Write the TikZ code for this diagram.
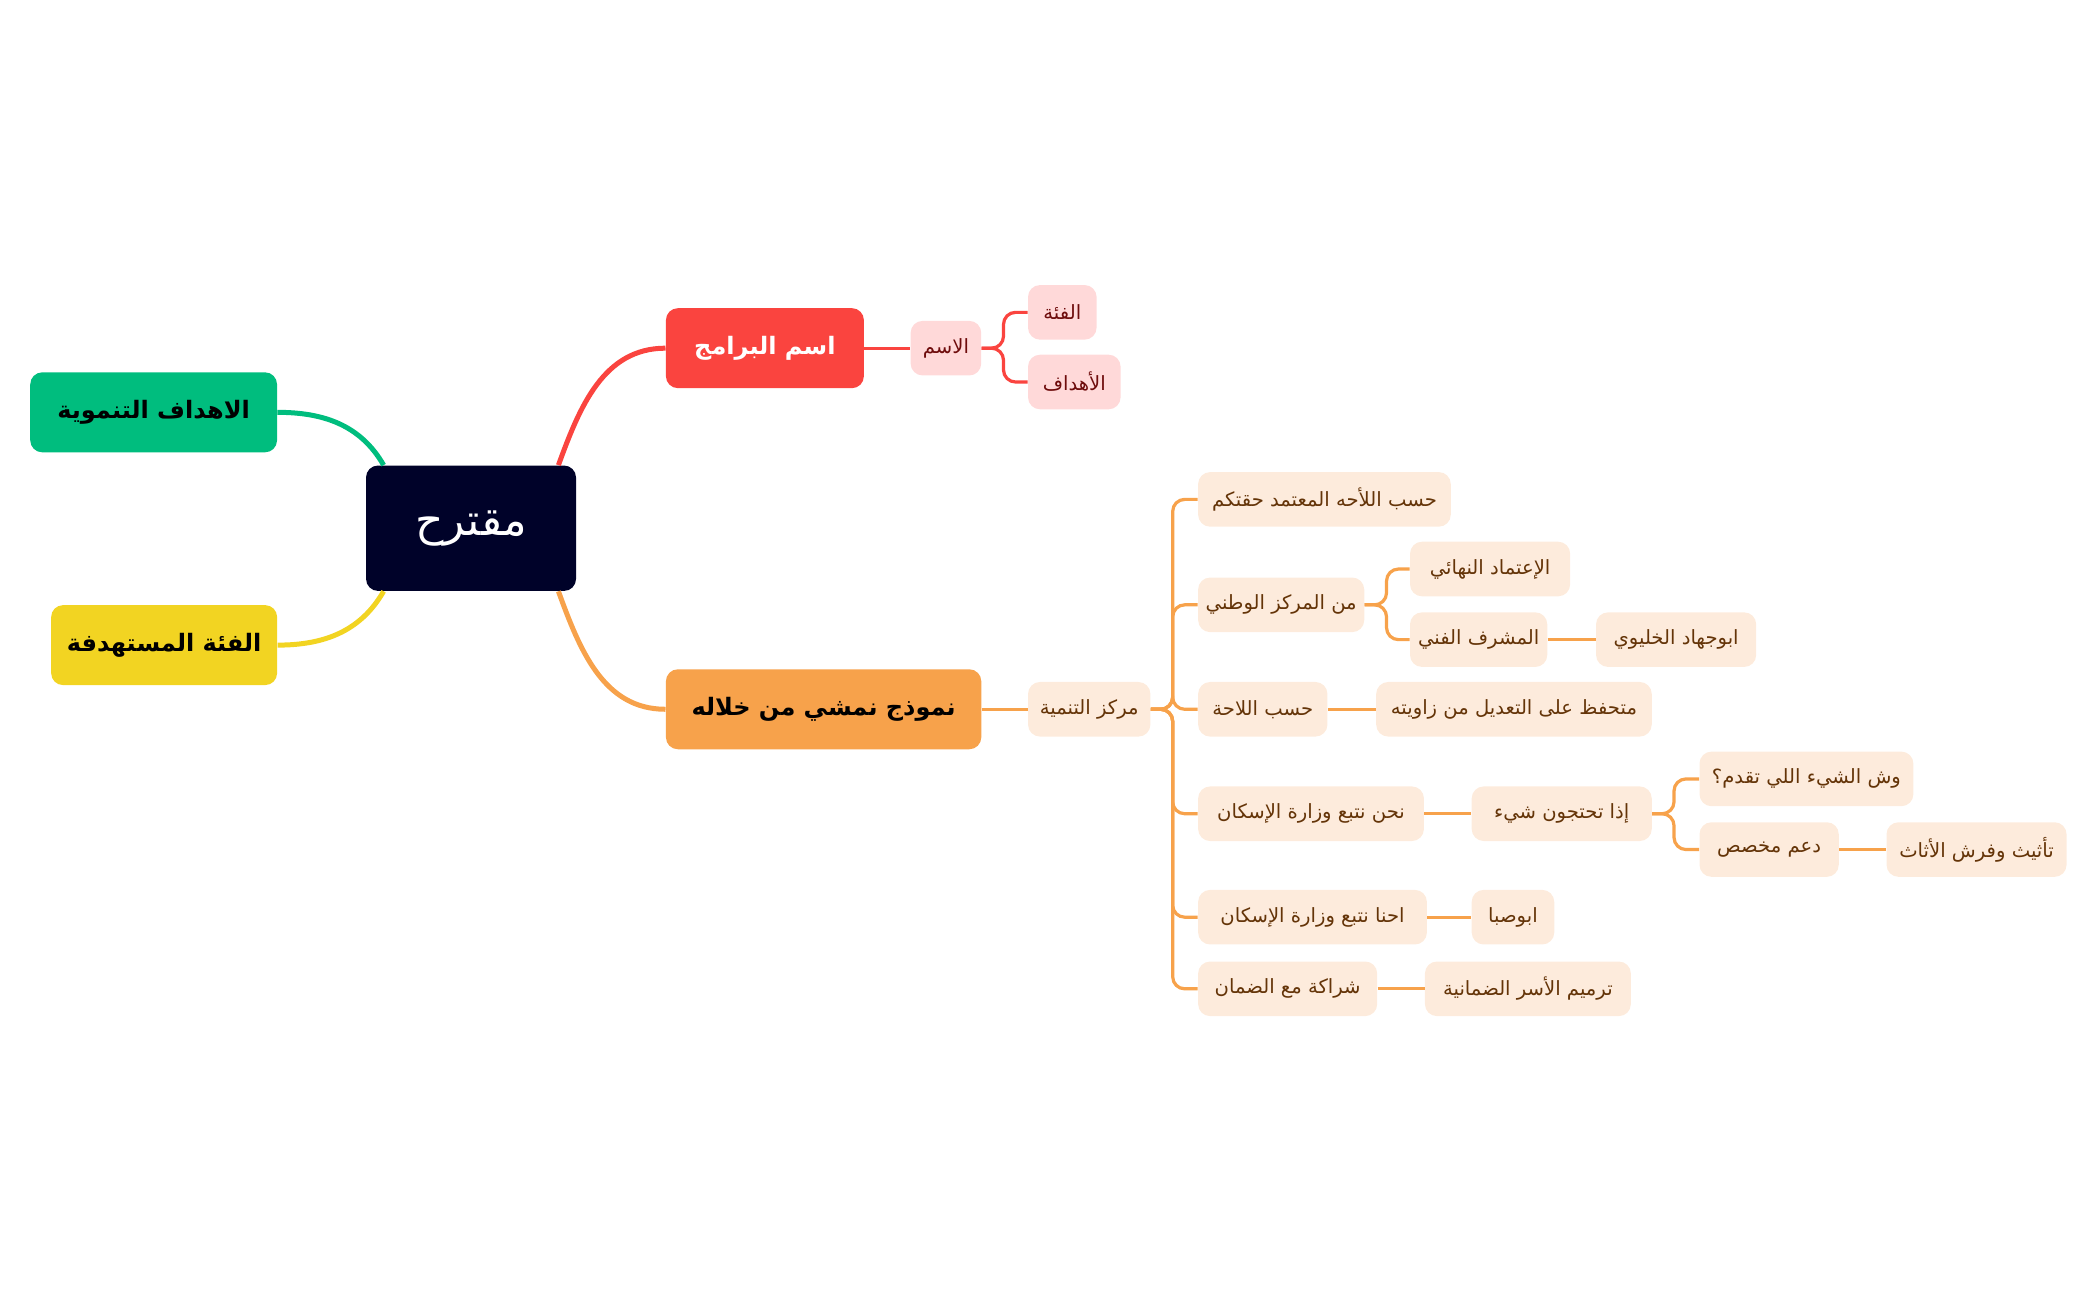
\documentclass[tikz,border=0pt]{standalone}
\usepackage{fontspec}
\newfontfamily\arabicfont[Script=Arabic]{DejaVu Sans}
\TeXXeTstate=1
\newcommand{\artxt}[1]{\arabicfont\beginR #1\endR}
\definecolor{rootblue}{RGB}{0,2,41}
\definecolor{goalgreen}{RGB}{0,189,126}
\definecolor{targetyellow}{RGB}{242,212,34}
\definecolor{progred}{RGB}{250,68,63}
\definecolor{modelorange}{RGB}{247,162,75}
\definecolor{pinkfill}{RGB}{255,217,217}
\definecolor{pinktext}{RGB}{110,12,12}
\definecolor{peachfill}{RGB}{253,235,220}
\definecolor{peachtext}{RGB}{100,52,8}

\begin{document}
\begin{tikzpicture}[x=0.4974pt,y=0.4974pt,
    mapbox/.style={rounded corners=6pt, inner sep=2pt, anchor=west},
    mainbox/.style={mapbox, minimum height=40pt, font=\fontsize{12}{14}\selectfont\bfseries},
    leaf/.style={mapbox, minimum height=27.3pt, font=\fontsize{9.8}{12}\selectfont},
    redleaf/.style={leaf, fill=pinkfill, text=pinktext},
    orangeleaf/.style={leaf, fill=peachfill, text=peachtext},
    branch/.style={line width=2.5pt},
    twig/.style={line width=1.6pt, rounded corners=6pt}]
    \useasboundingbox (0,0) rectangle (2107,-1307);
    % root and left side
    \node [rounded corners=6pt, fill=rootblue, text=white, minimum width=105pt, minimum height=62.7pt,
      font=\fontsize{22}{26}\selectfont] (root) at (473.5,-531) {\artxt{مقترح}};
    \node [mainbox, fill=goalgreen, minimum width=123.4pt] (goals) at (30,-414.5) {\artxt{الاهداف التنموية}};
    \node [mainbox, fill=targetyellow, minimum width=113pt] (target) at (51,-648.5) {\artxt{الفئة المستهدفة}};
    % red branch
    \node [mainbox, fill=progred, text=white, minimum width=99pt] (programs) at (669,-350) {\artxt{اسم البرامج}};
    \node [redleaf, minimum width=35.3pt] (name) at (915,-350) {\artxt{الاسم}};
    \node [redleaf, minimum width=34.3pt] (category) at (1033,-314) {\artxt{الفئة}};
    \node [redleaf, minimum width=46.3pt] (aims) at (1033,-384) {\artxt{الأهداف}};
    % orange branch
    \node [mainbox, fill=modelorange, minimum width=157.7pt] (model) at (669,-713) {\artxt{نموذج نمشي من خلاله}};
    \node [orangeleaf, minimum width=61.2pt] (devcenter) at (1033,-713) {\artxt{مركز التنمية}};
    \foreach \n/\x/\y/\w/\t in {
        bylaw/1204/502/254/{حسب اللأحه المعتمد حقتكم},
        national/1204/608/167/{من المركز الوطني},
        lawpage/1204/713/130/{حسب اللاحة},
        housing/1204/818/227/{نحن نتبع وزارة الإسكان},
        housingb/1204/922/230/{احنا نتبع وزارة الإسكان},
        daman/1204/994/180/{شراكة مع الضمان},
        final/1417/572/161/{الإعتماد النهائي},
        supervisor/1417/643/138/{المشرف الفني},
        abujihad/1604/643/161/{ابوجهاد الخليوي},
        reserve/1383/713/277/{متحفظ على التعديل من زاويته},
        needs/1479/818/181/{إذا تحتجون شيء},
        offer/1708/783/215/{وش الشيء اللي تقدم؟},
        support/1708/854/140/{دعم مخصص},
        furnish/1896/854/181/{تأثيث وفرش الأثاث},
        abusaba/1479/922/83/{ابوصبا},
        restore/1432/994/207/{ترميم الأسر الضمانية}} {
      \node [orangeleaf, minimum width=\w*0.4974pt] (\n) at (\x,-\y) {\artxt{\t}};
    }
    % connectors
    \draw [branch, goalgreen] (goals.east) to[out=0, in=120] ([xshift=9pt]root.north west);
    \draw [branch, targetyellow] (target.east) to[out=0, in=-120] ([xshift=9pt]root.south west);
    \draw [branch, progred] ([xshift=-9pt]root.north east) to[out=70, in=180] (programs.west);
    \draw [branch, modelorange] ([xshift=-9pt]root.south east) to[out=-70, in=180] (model.west);
    \draw [twig, progred] (programs.east) -- (name.west);
    \foreach \n in {category, aims} {
      \draw [twig, progred] (name.east) -- ++(22,0) |- (\n.west);
    }
    \draw [twig, modelorange] (model.east) -- (devcenter.west);
    \foreach \n in {bylaw, national, lawpage, housing, housingb, daman} {
      \draw [twig, modelorange] (devcenter.east) -- ++(22,0) |- (\n.west);
    }
    \foreach \n in {final, supervisor} {
      \draw [twig, modelorange] (national.east) -- ++(22,0) |- (\n.west);
    }
    \foreach \n in {offer, support} {
      \draw [twig, modelorange] (needs.east) -- ++(22,0) |- (\n.west);
    }
    \foreach \a/\b in {supervisor/abujihad, lawpage/reserve, housing/needs, support/furnish, housingb/abusaba, daman/restore} {
      \draw [twig, modelorange] (\a.east) -- (\b.west);
    }
\end{tikzpicture}
\end{document}
